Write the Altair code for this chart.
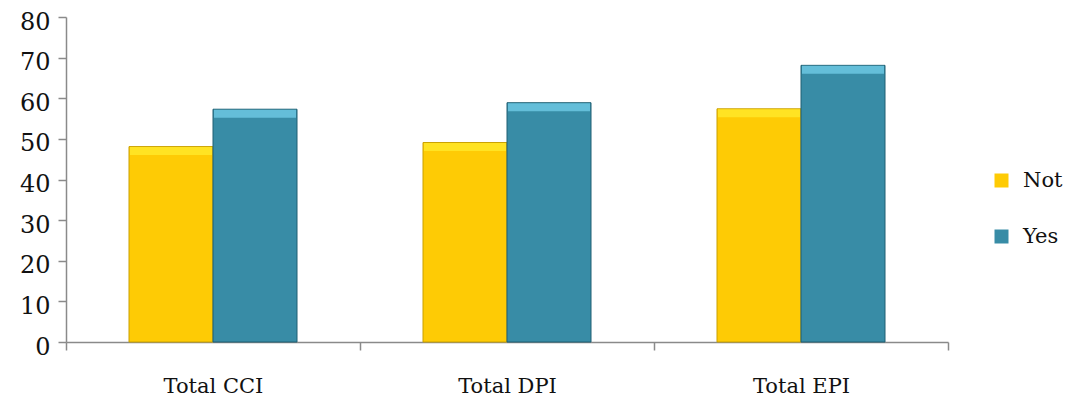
import altair as alt
import pandas as pd

categories = ["Total CCI", "Total DPI", "Total EPI"]
series = ["Not", "Yes"]
not_vals = [48.1, 49.1, 57.4]
yes_vals = [57.3, 58.9, 68.1]
colors = ["#FECB05", "#388CA6"]
edges = ["#C9A000", "#1F5F72"]
tops = ["#FFE82A", "#6FCBE6"]

rows = []
for c, n, y in zip(categories, not_vals, yes_vals):
    rows.append({"category": c, "group": "Not", "value": n})
    rows.append({"category": c, "group": "Yes", "value": y})
df = pd.DataFrame(rows)

FONT = "DejaVu Serif"

x_enc = alt.X("category:N", sort=categories, title=None,
              scale=alt.Scale(paddingInner=0, paddingOuter=0),
              axis=alt.Axis(labelAngle=0, labelFontSize=21, labelFont=FONT, labelColor="#111",
                            tickBand="extent", tickSize=8, labelPadding=25,
                            domainColor="#8a8a8a", tickColor="#8a8a8a", domainWidth=1.5, tickWidth=1.5))
xo_enc = alt.XOffset("group:N", sort=series, scale=alt.Scale(paddingInner=0, paddingOuter=0.75))
y_enc = alt.Y("value:Q", title=None,
              scale=alt.Scale(domain=[0, 80], nice=False),
              axis=alt.Axis(values=list(range(0, 81, 10)), grid=False, labelFontSize=24, labelFont=FONT,
                            labelColor="#111", tickSize=8, labelPadding=8, labelOffset=5,
                            domainColor="#8a8a8a", tickColor="#8a8a8a", domainWidth=1.5, tickWidth=1.5))

bars = alt.Chart(df).mark_bar(strokeWidth=1).encode(
    x=x_enc, xOffset=xo_enc, y=y_enc,
    color=alt.Color("group:N", sort=series, scale=alt.Scale(domain=series, range=colors),
                    legend=alt.Legend(title=None, orient="none", legendX=925, legendY=153,
                                      symbolType="square", symbolSize=196, symbolStrokeWidth=0,
                                      labelFontSize=21, labelFont=FONT, labelColor="#111",
                                      labelOffset=11, rowPadding=34)),
    stroke=alt.Stroke("group:N", sort=series, scale=alt.Scale(domain=series, range=edges), legend=None),
)

tops_layer = alt.Chart(df).mark_tick(thickness=8, size=82, yOffset=4.5, opacity=0.8).encode(
    x=x_enc, xOffset=xo_enc, y=y_enc,
    color=alt.Color("group:N", sort=series, scale=alt.Scale(domain=series, range=tops), legend=None),
)

chart = alt.layer(bars, tops_layer).resolve_scale(color="independent").properties(
    width=882, height=325,
    autosize=alt.AutoSizeParams(type="none"),
    padding={"left": 58, "top": 9, "right": 117, "bottom": 54},
).configure_view(stroke=None)

chart.save("out.html", embed_options={"renderer": "svg", "actions": False})
